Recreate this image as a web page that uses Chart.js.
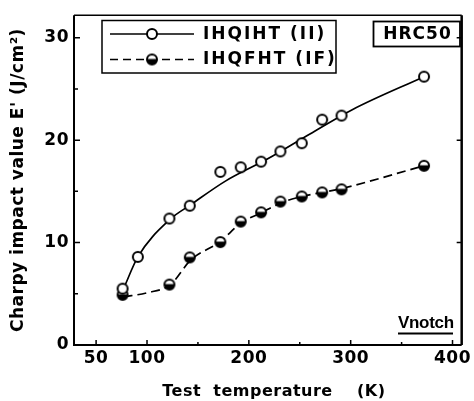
<!DOCTYPE html>
<html>
<head>
<meta charset="utf-8">
<script src="https://cdn.jsdelivr.net/npm/chart.js@4.4.1/dist/chart.umd.min.js"></script>
<style>
html,body{margin:0;padding:0;background:#fff}
#wrap{width:474px;height:401px;position:relative}
</style>
</head>
<body>
<div id="wrap"><canvas id="c"></canvas></div>
<script>
// ---- data ----
const seriesNames = ['IHQIHT (II)', 'IHQFHT (IF)'];
const iiTemps  = [76, 91, 122, 142, 172, 192, 212, 231, 252, 272, 291, 372];
const iiValues = [5.5, 8.6, 12.35, 13.6, 16.9, 17.35, 17.9, 18.9, 19.7, 22.0, 22.4, 26.2];
const ifTemps  = [76, 122, 142, 172, 192, 212, 231, 252, 272, 291, 372];
const ifValues = [4.9, 5.9, 8.55, 10.05, 12.05, 12.95, 14.0, 14.5, 14.9, 15.2, 17.5];
// hand-drawn trend curves
const iiCurveTemps  = [77, 91, 123, 143, 177, 219, 260, 302, 372];
const iiCurveValues = [5.5, 8.6, 12.3, 13.7, 16.0, 18.2, 20.6, 23.0, 26.2];
const ifCurveTemps  = [77, 100, 123, 143, 172, 192, 212, 232, 252, 272, 292, 372];
const ifCurveValues = [4.7, 5.1, 5.9, 8.3, 10.1, 11.9, 12.9, 13.9, 14.5, 14.9, 15.3, 17.5];
const xTickValues = [50, 100, 200, 300, 400];
const xMinorTicks = [150, 250, 350];
const yTickValues = [0, 10, 20, 30];
const yMinorTicks = [5, 15, 25];
const xTitle = '  Test  temperature    (K)';
const yTitle = "Charpy impact value E' (J/cm²)";
const hardnessLabel = 'HRC50';
const notchLabel = 'Vnotch';

// ---- markers ----
function openMarker(r, lw) {
  const s = Math.ceil(2 * r + lw + 2);
  const c = document.createElement('canvas'); c.width = s; c.height = s;
  const g = c.getContext('2d'); const m = s / 2;
  g.beginPath(); g.arc(m, m, r, 0, 2 * Math.PI);
  g.fillStyle = '#fff'; g.fill();
  g.lineWidth = lw; g.strokeStyle = '#000'; g.stroke();
  return c;
}
function halfMarker(r, lw) {
  const s = Math.ceil(2 * r + lw + 2);
  const c = document.createElement('canvas'); c.width = s; c.height = s;
  const g = c.getContext('2d'); const m = s / 2;
  g.beginPath(); g.arc(m, m, r, 0, 2 * Math.PI);
  g.fillStyle = '#fff'; g.fill();
  g.beginPath(); g.arc(m, m, r, -0.12, Math.PI + 0.12); g.closePath();
  g.fillStyle = '#000'; g.fill();
  g.beginPath(); g.arc(m, m, r, 0, 2 * Math.PI);
  g.lineWidth = lw; g.strokeStyle = '#000'; g.stroke();
  return c;
}
const openMk = openMarker(5, 2);
const halfMk = halfMarker(5, 2);
const toXY = (xs, ys) => xs.map((x, i) => ({x: x, y: ys[i]}));

const FONT = '"DejaVu Sans", sans-serif';

const decor = {
  id: 'decor',
  beforeDraw(chart) { chart.ctx.letterSpacing = '0.5px'; },
  afterDraw(chart) {
    const ctx = chart.ctx, a = chart.chartArea, x = chart.scales.x, y = chart.scales.y;
    ctx.save();
    ctx.letterSpacing = '0px';
    ctx.strokeStyle = '#000'; ctx.fillStyle = '#000';
    // frame
    ctx.lineWidth = 2;
    ctx.beginPath();
    ctx.moveTo(a.left, a.top); ctx.lineTo(a.left, a.bottom); ctx.lineTo(a.right, a.bottom);
    ctx.stroke();
    ctx.lineWidth = 1.5;
    ctx.beginPath(); ctx.moveTo(a.left, a.top); ctx.lineTo(a.right, a.top); ctx.stroke();
    ctx.lineWidth = 2.5;
    ctx.beginPath(); ctx.moveTo(a.right, a.top); ctx.lineTo(a.right, a.bottom); ctx.stroke();
    // inward ticks
    ctx.lineWidth = 1.5;
    ctx.beginPath();
    yTickValues.forEach(v => {
      const p = y.getPixelForValue(v);
      ctx.moveTo(a.left, p); ctx.lineTo(a.left + 6, p);
      if (v > 0) { ctx.moveTo(a.right, p); ctx.lineTo(a.right - 5, p); }
    });
    yMinorTicks.forEach(v => {
      const p = y.getPixelForValue(v);
      ctx.moveTo(a.left, p); ctx.lineTo(a.left + 4, p);
    });
    xTickValues.forEach(v => {
      const p = x.getPixelForValue(v);
      ctx.moveTo(p, a.bottom); ctx.lineTo(p, a.bottom - 5);
    });
    xMinorTicks.forEach(v => {
      const p = x.getPixelForValue(v);
      ctx.moveTo(p, a.bottom); ctx.lineTo(p, a.bottom - 3);
    });
    ctx.stroke();

    // legend box
    ctx.lineWidth = 1.5;
    ctx.strokeRect(102, 20.5, 234, 52.5);
    ctx.lineWidth = 1.6;
    ctx.beginPath(); ctx.moveTo(110, 34); ctx.lineTo(194, 34); ctx.stroke();
    ctx.drawImage(openMk, 152 - openMk.width / 2, 34 - openMk.height / 2);
    ctx.setLineDash([8, 5]);
    ctx.beginPath(); ctx.moveTo(110, 59.5); ctx.lineTo(194, 59.5); ctx.stroke();
    ctx.setLineDash([]);
    ctx.drawImage(halfMk, 152 - halfMk.width / 2, 59.5 - halfMk.height / 2);
    ctx.font = 'bold 17px ' + FONT;
    ctx.letterSpacing = '2px';
    ctx.textAlign = 'left'; ctx.textBaseline = 'middle';
    ctx.fillText(seriesNames[0], 203, 34.5);
    ctx.fillText(seriesNames[1], 203, 60);

    // HRC50 box
    ctx.lineWidth = 1.8;
    ctx.strokeRect(373.5, 21.5, 86.5, 25);
    ctx.font = 'bold 17px ' + FONT;
    ctx.letterSpacing = '1px';
    ctx.textAlign = 'center';
    ctx.fillText(hardnessLabel, 417.5, 35);

    // V notch
    ctx.font = 'bold 17px "Liberation Sans", sans-serif';
    ctx.letterSpacing = '-0.3px';
    ctx.textAlign = 'left'; ctx.textBaseline = 'alphabetic';
    ctx.fillText(notchLabel, 398, 328);
    ctx.lineWidth = 2;
    ctx.beginPath(); ctx.moveTo(398, 333.5); ctx.lineTo(453, 333.5); ctx.stroke();
    ctx.restore();
  }
};

new Chart(document.getElementById('c'), {
  type: 'scatter',
  data: {
    datasets: [
      {label: seriesNames[0], data: toXY(iiTemps, iiValues), pointStyle: openMk, pointRadius: 5, showLine: false, order: 0},
      {label: seriesNames[1], data: toXY(ifTemps, ifValues), pointStyle: halfMk, pointRadius: 5, showLine: false, order: 0},
      {label: seriesNames[0] + ' curve', data: toXY(iiCurveTemps, iiCurveValues), showLine: true, pointRadius: 0,
       borderColor: '#000', borderWidth: 1.7, fill: false, cubicInterpolationMode: 'monotone', order: 1},
      {label: seriesNames[1] + ' curve', data: toXY(ifCurveTemps, ifCurveValues), showLine: true, pointRadius: 0,
       borderColor: '#000', borderWidth: 1.7, borderDash: [9, 5], fill: false, cubicInterpolationMode: 'monotone', order: 1}
    ]
  },
  options: {
    responsive: true, maintainAspectRatio: false, animation: false, devicePixelRatio: 1,
    events: [],
    layout: {padding: {left: 0, right: 2, top: 6, bottom: 0}},
    plugins: {legend: {display: false}, tooltip: {enabled: false}},
    scales: {
      x: {
        type: 'linear', min: 28.3, max: 409,
        grid: {display: false, drawTicks: false}, border: {display: false},
        afterBuildTicks: s => { s.ticks = xTickValues.map(v => ({value: v})); },
        afterFit: s => { s.height = 56; },
        ticks: {color: '#000', font: {family: FONT, size: 17, weight: 'bold'}, padding: 3.6, maxRotation: 0, autoSkip: false},
        title: {display: true, text: xTitle, color: '#000', font: {family: FONT, size: 16, weight: 'bold'}, padding: {top: 3.9, bottom: 0}}
      },
      y: {
        type: 'linear', min: 0, max: 32.2,
        grid: {display: false, drawTicks: false}, border: {display: false},
        afterBuildTicks: s => { s.ticks = yTickValues.map(v => ({value: v})); },
        afterFit: s => { s.width = 74; },
        ticks: {color: '#000', font: {family: FONT, size: 17, weight: 'bold'}, padding: 5, autoSkip: false},
        title: {display: true, text: yTitle, color: '#000', font: {family: FONT, size: 17, weight: 'bold'}, padding: {top: 8.3, bottom: 0}}
      }
    }
  },
  plugins: [decor]
});
</script>
</body>
</html>
